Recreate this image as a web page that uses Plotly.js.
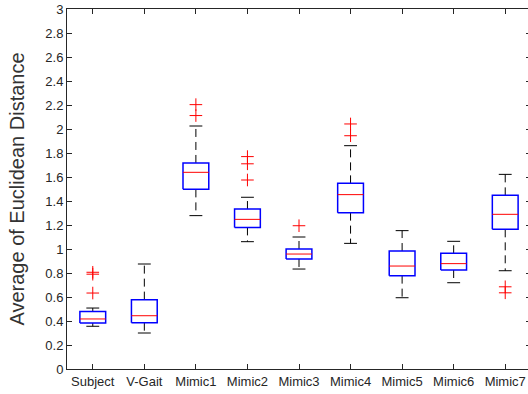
<!DOCTYPE html>
<html><head><meta charset="utf-8">
<script src="https://cdn.plot.ly/plotly-3.0.1.min.js"></script>
<style>html,body{margin:0;padding:0;overflow:hidden;background:#fff}#chart{width:531px;height:394px}</style>
</head><body><div id="chart"></div>
<script>
const categories = ['Subject','V-Gait','Mimic1','Mimic2','Mimic3','Mimic4','Mimic5','Mimic6','Mimic7'];
const lowerWhisker = [0.356,0.300,1.278,1.061,0.833,1.047,0.594,0.719,0.819];
const q1Values     = [0.383,0.386,1.497,1.180,0.917,1.303,0.778,0.825,1.164];
const medianValues = [0.417,0.444,1.639,1.247,0.958,1.453,0.858,0.878,1.289];
const q3Values     = [0.480,0.578,1.717,1.333,1.000,1.547,0.983,0.964,1.447];
const upperWhisker = [0.508,0.875,2.025,1.431,1.100,1.861,1.153,1.064,1.622];
const outliers = [
  [0.806,0.790,0.633],
  [],
  [2.203,2.112],
  [1.770,1.710,1.575],
  [1.194],
  [2.042,1.944],
  [],
  [],
  [0.685,0.635]
];
const yTicks = [0,0.2,0.4,0.6,0.8,1,1.2,1.4,1.6,1.8,2,2.2,2.4,2.6,2.8,3];

const HW = 0.25, CW = 0.125;
const boxX=[],boxY=[],medX=[],medY=[],whX=[],whY=[],capX=[],capY=[],olX=[],olY=[];
categories.forEach((c,i)=>{
  const x=i+1;
  boxX.push(x-HW,x+HW,x+HW,x-HW,x-HW,null);
  boxY.push(q1Values[i],q1Values[i],q3Values[i],q3Values[i],q1Values[i],null);
  medX.push(x-HW,x+HW,null); medY.push(medianValues[i],medianValues[i],null);
  whX.push(x,x,null,x,x,null);
  whY.push(q3Values[i],upperWhisker[i],null,q1Values[i],lowerWhisker[i],null);
  capX.push(x-CW,x+CW,null,x-CW,x+CW,null);
  capY.push(upperWhisker[i],upperWhisker[i],null,lowerWhisker[i],lowerWhisker[i],null);
  outliers[i].forEach(v=>{olX.push(x);olY.push(v);});
});

const traces=[
  {x:whX,y:whY,mode:'lines',line:{color:'#000',width:1,dash:'8px,5px'},hoverinfo:'skip'},
  {x:capX,y:capY,mode:'lines',line:{color:'#000',width:1},hoverinfo:'skip'},
  {x:boxX,y:boxY,mode:'lines',line:{color:'#0000ff',width:1.5},hoverinfo:'skip'},
  {x:medX,y:medY,mode:'lines',line:{color:'#ff0000',width:1},hoverinfo:'skip'},
  {x:olX,y:olY,mode:'markers',marker:{symbol:'cross-thin-open',size:9,line:{color:'#ff0000',width:1},color:'#ff0000'},hoverinfo:'skip'}
];

const axisCommon={showgrid:false,zeroline:false,showline:true,linecolor:'#262626',linewidth:1,
  mirror:'ticks',ticks:'inside',ticklen:5,tickcolor:'#262626',
  tickfont:{family:'Liberation Sans, Arial, sans-serif',size:13,color:'#262626'}};

const layout={
  width:531,height:394,
  margin:{l:67,r:0,t:9,b:25},
  paper_bgcolor:'#fff',plot_bgcolor:'#fff',
  showlegend:false,
  xaxis:Object.assign({},axisCommon,{range:[0.5,9.5],tickmode:'array',
    tickvals:categories.map((c,i)=>i+1),ticktext:categories}),
  yaxis:Object.assign({},axisCommon,{range:[0,3],tickmode:'array',tickvals:yTicks,
    ticktext:yTicks.map(v=>String(v)),
    title:{text:'Average of Euclidean Distance',standoff:15,
      font:{family:'Liberation Sans, Arial, sans-serif',size:20,color:'#333333'}}})
};
Plotly.newPlot('chart',traces,layout,{displayModeBar:false,staticPlot:true});
</script></body></html>
